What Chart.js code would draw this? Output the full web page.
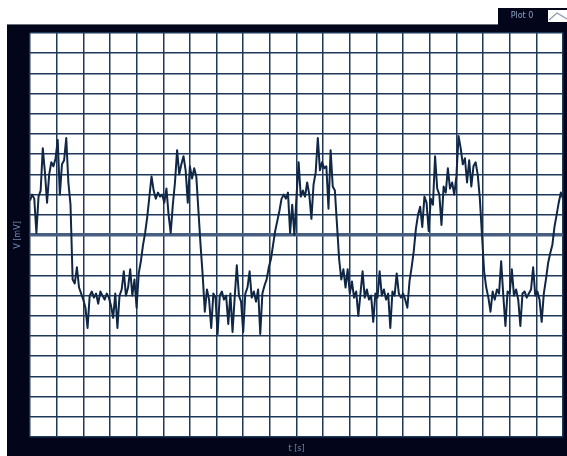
<!DOCTYPE html>
<html>
<head>
<meta charset="utf-8">
<script src="https://cdn.jsdelivr.net/npm/chart.js@4.4.1/dist/chart.umd.min.js"></script>
<style>
  html, body { margin: 0; padding: 0; background: #ffffff; }
  #wrap { position: relative; width: 567px; height: 456px; }
</style>
</head>
<body>
<div id="wrap"><canvas id="scope" width="567" height="456"></canvas></div>
<script>
// Sampled trace: one value every 0.08 s, from t = 0 to t = 20 s
const sampleStep = 0.08;
const voltage = [
  1.7, 2.0, 1.8, 0.1, 1.9,   2.2, 4.3, 3.1, 1.6, 3.0,
  3.6, 3.4, 3.8, 4.7, 2.0,   3.5, 3.7, 4.8, 2.6, 1.5,
  -2.2, -2.4, -1.6, -2.6, -2.9,   -3.2, -3.6, -4.6, -3.0, -2.8,
  -3.1, -2.9, -3.4, -2.8, -3.0,   -3.2, -2.9, -3.1, -3.5, -4.1,
  -2.9, -4.6, -3.0, -2.7, -1.8,   -3.0, -2.6, -1.7, -3.0, -2.2,
  -3.6, -1.9, -1.3, -0.5, 0.1,   0.9, 1.9, 2.9, 2.2, 1.8,
  2.1, 1.9, 2.0, 1.6, 2.3,   1.0, 0.1, 1.5, 2.6, 4.2,
  3.0, 3.5, 3.9, 3.2, 1.6,   3.4, 2.8, 3.3, 2.9, 1.2,
  -0.5, -2.0, -3.8, -2.7, -3.2,   -4.6, -2.9, -3.1, -4.9, -3.0,
  -2.8, -3.2, -3.0, -4.4, -2.9,   -4.8, -3.1, -1.5, -3.0, -3.3,
  -4.8, -2.9, -2.6, -1.8, -3.1,   -2.8, -3.3, -2.7, -4.9, -2.9,
  -2.5, -2.2, -1.6, -1.2, -0.5,   0.2, 0.7, 1.2, 1.8, 2.0,
  1.8, 2.1, 0.1, 1.5, 0.0,   1.9, 3.6, 1.9, 2.2, 1.9,
  2.6, 2.0, 0.8, 2.5, 3.1,   4.8, 3.2, 3.6, 3.3, 3.4,
  1.3, 4.2, 2.4, 2.2, 0.5,   -1.2, -2.2, -1.7, -2.6, -1.7,
  -2.9, -2.3, -3.1, -2.8, -4.0,   -2.9, -1.8, -3.1, -2.7, -3.2,
  -3.0, -4.3, -2.9, -3.1, -1.8,   -3.0, -2.7, -3.2, -2.9, -4.6,
  -2.8, -3.0, -1.9, -2.9, -3.1,   -2.9, -3.2, -3.6, -2.3, -1.6,
  -0.8, 0.3, 1.0, 1.4, 0.4,   1.9, 1.6, 0.2, 1.8, 1.5,
  3.9, 2.3, 2.0, 0.5, 2.4,   2.1, 3.3, 2.3, 2.6, 2.0,
  2.9, 4.9, 4.3, 3.5, 3.8,   2.6, 3.7, 2.4, 3.4, 3.6,
  3.0, 1.8, 0.0, -1.8, -2.6,   -3.1, -3.8, -2.8, -3.2, -2.7,
  -2.9, -1.3, -3.0, -4.5, -2.8,   -2.9, -1.7, -3.0, -2.7, -3.2,
  -4.5, -2.9, -2.8, -3.1, -2.9,   -2.7, -1.6, -3.0, -2.8, -3.2,
  -4.3, -2.9, -2.2, -1.4, -0.9,   -0.5, 0.4, 1.0, 1.6, 2.1,
  1.8
];
const timeRange = [0, 20];
const voltRange = [-10, 10];
const seriesName = 'Plot 0';
const xTitle = 't [s]';
const yTitle = 'V [mV]';

const points = voltage.map((v, i) => ({ x: +(i * sampleStep).toFixed(2), y: v }));

const FRAME = '#03061a';
const GRID = '#1f3859';
const ZERO = '#465f80';
const LABEL = '#6f88ab';

// Dark instrument frame behind the plot, white plot area, and the tab holding the trace name
const framePlugin = {
  id: 'scopeFrame',
  beforeDraw(chart) {
    const { ctx, chartArea: a } = chart;
    ctx.save();
    ctx.fillStyle = FRAME;
    ctx.fillRect(7, 24, 560, 432);
    ctx.fillRect(498, 8, 69, 17);
    ctx.strokeStyle = '#6b6f7a';
    ctx.lineWidth = 1;
    ctx.beginPath();
    ctx.moveTo(7, 24.5); ctx.lineTo(498, 24.5);
    ctx.stroke();
    ctx.fillStyle = '#ffffff';
    ctx.fillRect(a.left, a.top, a.right - a.left, a.bottom - a.top);
    // trace name tab
    const ds = chart.data.datasets[0];
    ctx.fillStyle = '#8ea3c2';
    ctx.font = '8px "DejaVu Sans", sans-serif';
    ctx.textAlign = 'center';
    ctx.textBaseline = 'middle';
    ctx.fillText(ds.label, 522, 16);
    ctx.fillStyle = '#ffffff';
    ctx.fillRect(548, 10, 19, 12);
    ctx.strokeStyle = '#8a9bb5';
    ctx.lineWidth = 1.2;
    ctx.beginPath();
    ctx.moveTo(549, 20); ctx.lineTo(557, 13); ctx.lineTo(567, 19);
    ctx.stroke();
    ctx.restore();
  }
};

new Chart(document.getElementById('scope'), {
  type: 'line',
  data: {
    datasets: [{
      label: seriesName,
      data: points,
      borderColor: '#0f2645',
      borderWidth: 2,
      borderJoinStyle: 'round',
      pointRadius: 0,
      tension: 0,
      fill: false
    }]
  },
  options: {
    responsive: false,
    animation: false,
    layout: { padding: { left: 7, top: 33, right: 4, bottom: 0 } },
    plugins: {
      legend: { display: false },
      tooltip: { enabled: false }
    },
    scales: {
      x: {
        type: 'linear',
        min: timeRange[0],
        max: timeRange[1],
        ticks: { display: false, stepSize: 1 },
        border: { display: false },
        grid: { color: GRID, lineWidth: 1.5, drawTicks: false },
        title: {
          display: true,
          text: xTitle,
          color: LABEL,
          font: { family: '"DejaVu Sans", sans-serif', size: 8 },
          padding: { top: 6.7, bottom: 2.7 }
        }
      },
      y: {
        type: 'linear',
        min: voltRange[0],
        max: voltRange[1],
        ticks: { display: false, stepSize: 1 },
        border: { display: false },
        grid: {
          color: (c) => c.tick && c.tick.value === 0 ? ZERO : GRID,
          lineWidth: (c) => c.tick && c.tick.value === 0 ? 3.5 : 1.5,
          drawTicks: false
        },
        title: {
          display: true,
          text: yTitle,
          color: LABEL,
          font: { family: '"DejaVu Sans", sans-serif', size: 8 },
          padding: { top: 6.2, bottom: 7.2 }
        }
      }
    }
  },
  plugins: [framePlugin]
});
</script>
</body>
</html>
